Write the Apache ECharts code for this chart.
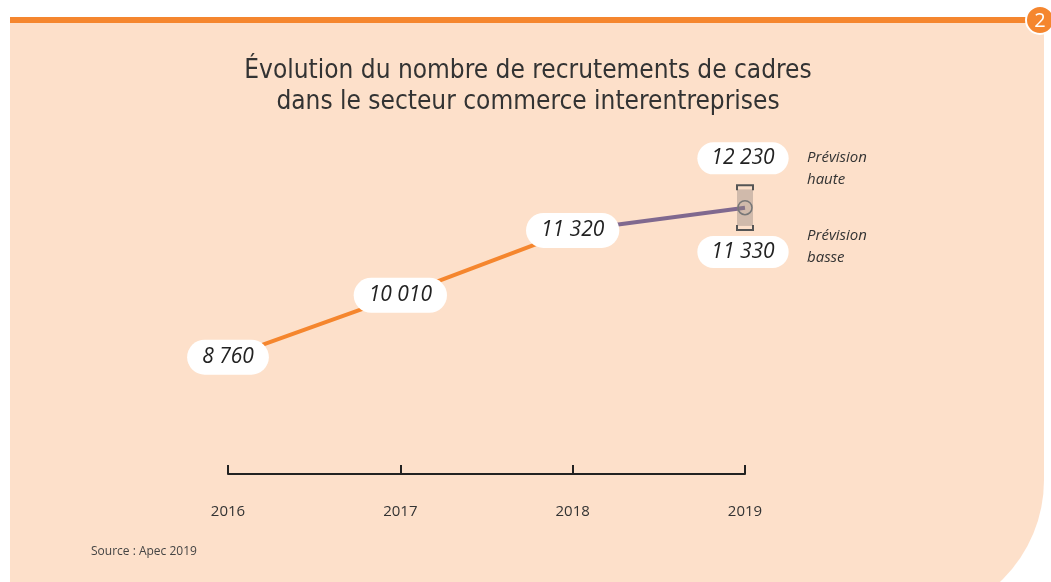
<!DOCTYPE html>
<html>
<head>
<meta charset="utf-8">
<script src="https://cdn.jsdelivr.net/npm/echarts@6/dist/echarts.min.js"></script>
<style>
  html, body { margin: 0; padding: 0; background: #fff; }
  #chart { width: 1051px; height: 582px; }
</style>
</head>
<body>
<div id="chart"></div>
<script>
  // données
  const annees = ['2016', '2017', '2018', '2019']
  const recrutements = [8760, 10010, 11320, '-']
  const prevision = ['-', '-', 11320, 11780]   // milieu de la fourchette 2019
  const fourchette = [[3, 11330, 12230]]       // prévision basse / haute

  const orange = '#f5862e'
  const violet = '#80698f'
  const fmt = v => String(v).replace(/\B(?=(\d{3})+(?!\d))/g, ' ')

  const chart = echarts.init(document.getElementById('chart'))

  chart.setOption({
    animation: false,
    backgroundColor: '#fff',
    graphic: [
      {
        type: 'rect', z: -10,
        shape: {x: 10, y: 17, width: 1034, height: 603, r: [0, 0, 140, 0]},
        style: {fill: '#fde0ca'}
      },
      {
        type: 'rect', z: -9,
        shape: {x: 10, y: 17, width: 1034, height: 6},
        style: {fill: orange}
      },
      {
        type: 'circle', z: 5,
        shape: {cx: 1040, cy: 20, r: 14},
        style: {fill: orange, stroke: '#fff', lineWidth: 2}
      },
      {
        type: 'text', z: 6, x: 1040, y: 21,
        style: {text: '2', fill: '#fff', font: '20px "Open Sans"', align: 'center', verticalAlign: 'middle'}
      },
      {
        type: 'text', x: 528, y: 56,
        style: {
          text: 'Évolution du nombre de recrutements de cadres\ndans le secteur commerce interentreprises',
          fill: '#333', font: '26px "DejaVu Sans Condensed"', lineHeight: 31, align: 'center'
        }
      },
      {
        type: 'text', x: 807, y: 147,
        style: {text: 'Prévision\nhaute', fill: '#333', font: 'italic 15px "Open Sans"', lineHeight: 22}
      },
      {
        type: 'text', x: 807, y: 225,
        style: {text: 'Prévision\nbasse', fill: '#333', font: 'italic 15px "Open Sans"', lineHeight: 22}
      },
      {
        type: 'text', x: 91, y: 546,
        style: {text: 'Source : Apec 2019', fill: '#444', font: '12px "Open Sans"'}
      }
    ],
    grid: {left: 228, right: 306, top: 172, bottom: 108},
    xAxis: {
      type: 'category',
      data: annees,
      boundaryGap: false,
      axisLine: {lineStyle: {color: '#222', width: 2}},
      axisTick: {inside: true, length: 9, lineStyle: {color: '#222', width: 2}},
      axisLabel: {margin: 30, fontSize: 15, color: '#333', fontFamily: 'Open Sans'},
      splitLine: {show: false}
    },
    yAxis: {type: 'value', show: false, min: 6400, max: 12500, splitLine: {show: false}},
    series: [
      {
        type: 'line',
        data: prevision,
        symbol: 'none',
        lineStyle: {color: violet, width: 4},
        z: 2
      },
      {
        type: 'line',
        data: recrutements,
        symbol: 'circle',
        symbolSize: 1,
        itemStyle: {color: orange},
        lineStyle: {color: orange, width: 4},
        z: 3,
        label: {
          show: true,
          position: 'inside',
          formatter: p => fmt(p.value),
          backgroundColor: '#fff',
          borderRadius: 18,
          padding: [8, 15, 6, 15],
          fontStyle: 'italic',
          fontSize: 21,
          fontFamily: 'Open Sans',
          color: '#222'
        }
      },
      {
        type: 'custom',
        data: fourchette,
        z: 4,
        renderItem: function (params, api) {
          const bas = api.coord([api.value(0), api.value(1)])
          const haut = api.coord([api.value(0), api.value(2)])
          const x = bas[0]
          const mid = (bas[1] + haut[1]) / 2
          const lab = (txt, y) => ({
            type: 'text', x: x - 2, y: y,
            style: {
              text: txt, fill: '#222', font: 'italic 21px "Open Sans"',
              align: 'center', verticalAlign: 'middle',
              backgroundColor: '#fff', borderRadius: 17, padding: [6, 14, 5, 14]
            }
          })
          return {
            type: 'group',
            children: [
              {type: 'rect', shape: {x: x - 8, y: haut[1] + 4, width: 16, height: bas[1] - haut[1] - 8},
                style: {fill: 'rgba(140,130,125,0.4)'}},
              {type: 'polyline', shape: {points: [[x - 8, haut[1] + 5], [x - 8, haut[1]], [x + 8, haut[1]], [x + 8, haut[1] + 5]]},
                style: {stroke: '#555', lineWidth: 2, fill: null}},
              {type: 'polyline', shape: {points: [[x - 8, bas[1] - 5], [x - 8, bas[1]], [x + 8, bas[1]], [x + 8, bas[1] - 5]]},
                style: {stroke: '#555', lineWidth: 2, fill: null}},
              {type: 'circle', shape: {cx: x, cy: mid, r: 7},
                style: {stroke: '#777', lineWidth: 1.5, fill: null}},
              lab(fmt(api.value(2)), haut[1] - 27),
              lab(fmt(api.value(1)), bas[1] + 22)
            ]
          }
        }
      }
    ]
  })
</script>
</body>
</html>
